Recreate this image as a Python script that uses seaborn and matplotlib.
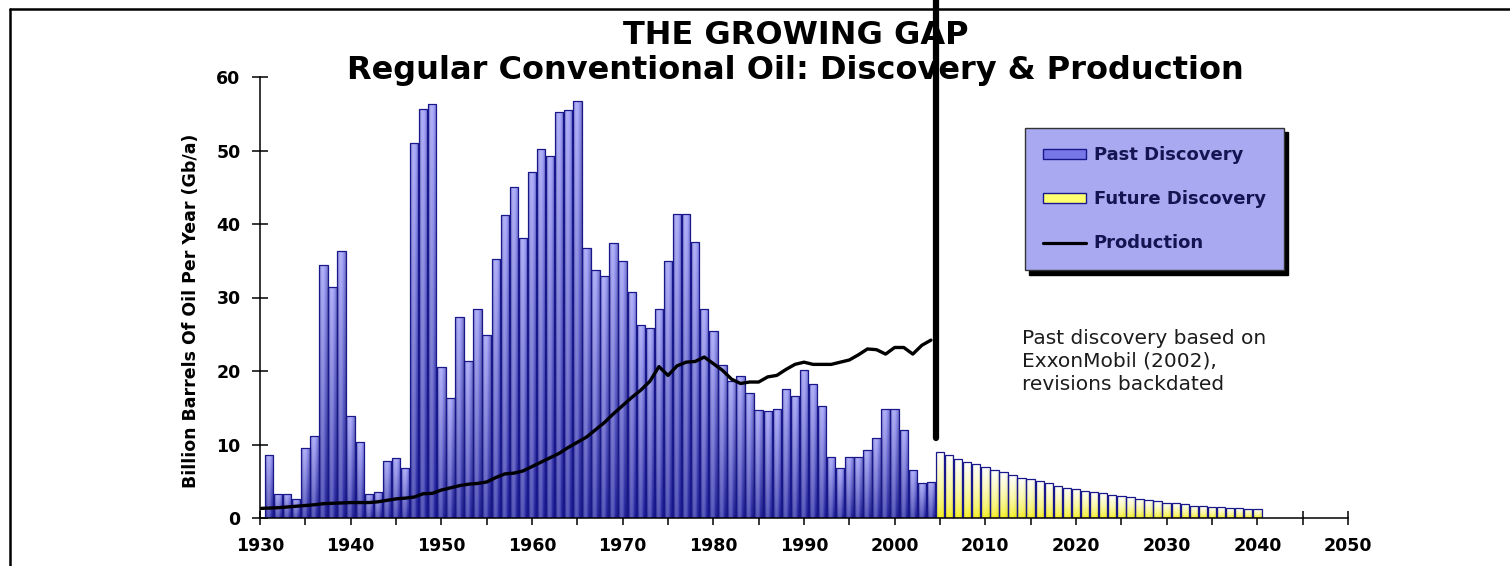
import matplotlib
matplotlib.use("Agg")
import matplotlib.pyplot as plt
import matplotlib.colors as mcolors
from matplotlib.lines import Line2D
from matplotlib.patches import Patch
from matplotlib.ticker import MultipleLocator
import numpy as np
import seaborn as sns

# past discovery, Gb/a, 1931-2004
past_years = list(range(1931, 2005))
past_discovery = [
    8.6, 3.3, 3.3, 2.6, 9.5, 11.1, 34.4, 31.4, 36.3, 13.9,
    10.3, 3.2, 3.5, 7.8, 8.1, 6.8, 51.0, 55.7, 56.3, 20.5,
    16.3, 27.4, 21.3, 28.5, 24.9, 35.2, 41.2, 45.1, 38.1, 47.1,
    50.2, 49.3, 55.2, 55.5, 56.8, 36.8, 33.8, 32.9, 37.4, 35.0,
    30.8, 26.2, 25.8, 28.4, 35.0, 41.3, 41.3, 37.6, 28.4, 25.4,
    20.8, 18.6, 19.3, 17.0, 14.7, 14.5, 14.8, 17.5, 16.6, 20.2,
    18.2, 15.2, 8.3, 6.8, 8.3, 8.3, 9.2, 10.9, 14.8, 14.8,
    12.0, 6.5, 4.75, 4.9,
]

# future discovery, 2005-2040
future_years = list(range(2005, 2041))
future_discovery = [
    9.0, 8.6, 8.0, 7.6, 7.3, 6.9, 6.5, 6.2, 5.85, 5.5,
    5.3, 5.0, 4.7, 4.4, 4.1, 3.95, 3.7, 3.5, 3.35, 3.1,
    2.95, 2.8, 2.6, 2.4, 2.3, 2.1, 2.0, 1.85, 1.7, 1.6,
    1.55, 1.45, 1.36, 1.3, 1.27, 1.22,
]

# production, 1930-2004
prod_years = list(range(1930, 2005))
production = [
    1.3, 1.35, 1.4, 1.5, 1.6, 1.7, 1.8, 1.95, 2.0, 2.05,
    2.1, 2.1, 2.1, 2.2, 2.4, 2.6, 2.7, 2.85, 3.3, 3.35,
    3.8, 4.1, 4.4, 4.6, 4.7, 4.9, 5.5, 6.0, 6.1, 6.4,
    7.0, 7.6, 8.2, 8.8, 9.6, 10.3, 11.0, 12.0, 13.0, 14.2,
    15.3, 16.4, 17.4, 18.6, 20.6, 19.4, 20.7, 21.2, 21.3, 21.9,
    21.0, 20.1, 18.9, 18.3, 18.5, 18.5, 19.2, 19.4, 20.2, 20.9,
    21.2, 20.9, 20.9, 20.9, 21.2, 21.5, 22.2, 23.0, 22.9, 22.3,
    23.2, 23.2, 22.3, 23.5, 24.2,
]

split_year = 2004.6
split_bottom = 10.9

sns.set_style("ticks")
plt.rcParams['font.family'] = ['DejaVu Sans']
plt.rcParams['font.weight'] = 'bold'


def gradient_fill(ax, bars, top, bottom, power=1.0, shine=0.25, edge_dark=0.25):
    """paint each bar with a vertical gradient, light centre, darker sides"""
    top = np.array(mcolors.to_rgb(top))
    bottom = np.array(mcolors.to_rgb(bottom))
    t = np.linspace(0, 1, 64)[:, None, None] ** power
    u = np.linspace(-1, 1, 16)[None, :, None]
    base = bottom + (top - bottom) * t
    glow = shine * np.clip(1 - ((u + 0.25) / 0.75) ** 2, 0, 1)
    img = base + (1 - base) * glow
    img = img * (1 - edge_dark * np.abs(u) ** 3)
    img = np.clip(img, 0, 1)
    for bar in bars:
        x0, w, h = bar.get_x(), bar.get_width(), bar.get_height()
        im = ax.imshow(img, extent=[x0, x0 + w, 0, h], origin='lower',
                       aspect='auto', interpolation='bilinear',
                       zorder=bar.get_zorder() - 0.1)
        im.set_clip_path(bar)
        bar.set_facecolor('none')


fig = plt.figure(figsize=(15.1, 5.66), dpi=100)
ax = fig.add_axes([260 / 1510, 48 / 566, 1088 / 1510, 441 / 566])

sns.barplot(x=past_years, y=past_discovery, native_scale=True, width=0.92,
            color='#5555cc', edgecolor='#18188c', linewidth=0.9,
            errorbar=None, ax=ax)
n_past = len(ax.patches)
sns.barplot(x=future_years, y=future_discovery, native_scale=True, width=0.92,
            color='#ffff66', edgecolor='#18188c', linewidth=0.9,
            errorbar=None, ax=ax)
past_bars = ax.patches[:n_past]
future_bars = ax.patches[n_past:]
gradient_fill(ax, past_bars, '#9898f6', '#2424a4', power=0.9)
gradient_fill(ax, future_bars, '#ffffff', '#f2ec00', power=0.6, shine=0.1,
              edge_dark=0.1)

sns.lineplot(x=prod_years, y=production, color='black', linewidth=2.4, ax=ax)

# the divide between past and future, running up over the title
ax.axvline(split_year, ymin=split_bottom / 60, ymax=518 / 441, color='black',
           linewidth=4.5, clip_on=False, zorder=5)

ax.set_xlim(1930, 2050)
ax.set_ylim(0, 60)
ax.xaxis.set_major_locator(MultipleLocator(10))
ax.xaxis.set_minor_locator(MultipleLocator(5))
ax.yaxis.set_major_locator(MultipleLocator(10))
ax.tick_params(axis='x', which='both', bottom=True, direction='inout',
               length=10, width=1.1, color='black', labelcolor='black',
               labelsize=12.5, pad=9)
ax.tick_params(axis='y', left=True, direction='inout', length=12, width=1.1,
               color='black', labelcolor='black', labelsize=12.5, pad=8)
for lab in ax.get_xticklabels() + ax.get_yticklabels():
    lab.set_fontweight('bold')
for side in ['top', 'right']:
    ax.spines[side].set_visible(False)
for side in ['left', 'bottom']:
    ax.spines[side].set_color('black')
    ax.spines[side].set_linewidth(1.1)

ax.set_xlabel('')
ax.set_ylabel('Billion Barrels Of Oil Per Year (Gb/a)', fontsize=12.5,
              fontweight='bold', color='black')
ax.yaxis.set_label_coords(-0.055, 0.47)

fig.text(0.527, 1 - 36 / 566, 'THE GROWING GAP', ha='center', va='center',
         fontsize=23, fontweight='bold', color='black')
fig.text(0.527, 1 - 71 / 566, 'Regular Conventional Oil: Discovery & Production',
         ha='center', va='center', fontsize=23, fontweight='bold', color='black')

fig.text(1022 / 1510, 1 - 329 / 566,
         'Past discovery based on\nExxonMobil (2002),\nrevisions backdated',
         ha='left', va='top', fontsize=14.5, fontweight='normal',
         color='#1c1c1c', linespacing=1.25)

handles = [
    Patch(facecolor='#7777e8', edgecolor='#18188c', linewidth=1),
    Patch(facecolor='#ffff70', edgecolor='#18188c', linewidth=1),
    Line2D([], [], color='black', linewidth=2.3),
]
labels = ['Past Discovery', 'Future Discovery', 'Production']
leg = ax.legend(handles, labels, loc='upper left',
                bbox_to_anchor=(1025 / 1510, 1 - 128 / 566),
                bbox_transform=fig.transFigure, borderaxespad=0,
                fontsize=13, labelcolor='#141452', frameon=True,
                fancybox=False, framealpha=1, facecolor='#a9a9f2',
                edgecolor='#333333', borderpad=1.0, labelspacing=1.45,
                handlelength=2.4, handleheight=0.5, handletextpad=0.4,
                shadow={'ox': 3, 'oy': -3, 'color': 'black', 'alpha': 1})
leg.set_zorder(6)
for txt in leg.get_texts():
    txt.set_fontweight('bold')

# page frame lines
fig.add_artist(Line2D([10 / 1510, 1], [1 - 9 / 566, 1 - 9 / 566],
                      transform=fig.transFigure, color='black', linewidth=1.8))
fig.add_artist(Line2D([10 / 1510, 10 / 1510], [0, 1 - 9 / 566],
                      transform=fig.transFigure, color='black', linewidth=1.8))

fig.savefig('out.png', dpi=100)
